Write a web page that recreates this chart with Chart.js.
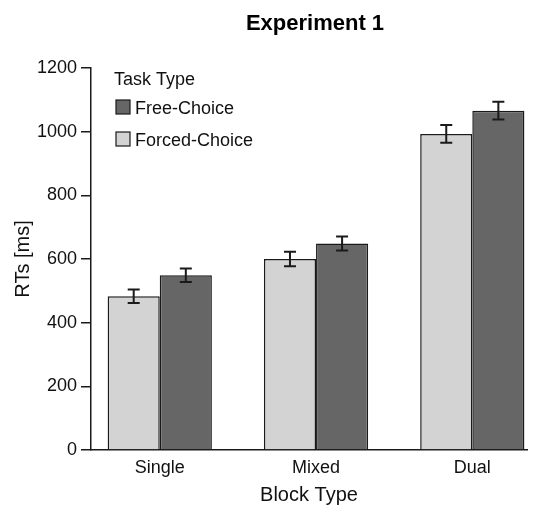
<!DOCTYPE html>
<html>
<head>
<meta charset="utf-8">
<script src="https://cdn.jsdelivr.net/npm/chart.js@4/dist/chart.umd.min.js"></script>
<style>
  html, body { margin: 0; padding: 0; background: #fff; }
  #wrap { width: 538px; height: 507px; position: relative; }
</style>
</head>
<body>
<div id="wrap"><canvas id="chart"></canvas></div>
<script>
    'use strict';

    // Data
    const blockTypes = ['Single', 'Mixed', 'Dual'];
    const forcedRT = [483, 600, 993];
    const forcedErr = [21, 23, 28];
    const freeRT = [549, 649, 1066];
    const freeErr = [21, 22, 28];
    const yTicks = [0, 200, 400, 600, 800, 1000, 1200];

    const FONT = "'Liberation Sans', Arial, sans-serif";
    const INK = '#1a1a1a';

    /**
     * Error bars, positioned through the chart scales
     */
    const errorBars = {
        id: 'errorBars',
        afterDatasetsDraw(chart) {
            const ctx = chart.ctx;
            const y = chart.scales.y;
            ctx.save();
            ctx.strokeStyle = INK;
            ctx.lineWidth = 2;
            chart.data.datasets.forEach((ds, i) => {
                const meta = chart.getDatasetMeta(i);
                meta.data.forEach((bar, j) => {
                    const v = ds.data[j].y;
                    const e = ds.errors[j];
                    const top = y.getPixelForValue(v + e);
                    const bot = y.getPixelForValue(v - e);
                    const cap = 6;
                    ctx.beginPath();
                    ctx.moveTo(bar.x, top);
                    ctx.lineTo(bar.x, bot);
                    ctx.moveTo(bar.x - cap, top);
                    ctx.lineTo(bar.x + cap, top);
                    ctx.moveTo(bar.x - cap, bot);
                    ctx.lineTo(bar.x + cap, bot);
                    ctx.stroke();
                });
            });
            ctx.restore();
        }
    };

    /**
     * Title and in-plot legend
     */
    const decorations = {
        id: 'decorations',
        afterDraw(chart) {
            const ctx = chart.ctx;
            const area = chart.chartArea;
            ctx.save();

            // title
            ctx.fillStyle = '#000';
            ctx.font = 'bold 22px ' + FONT;
            ctx.textAlign = 'center';
            ctx.textBaseline = 'alphabetic';
            ctx.fillText('Experiment 1', (area.left + area.right) / 2 + 6, 30);

            // legend
            ctx.font = '18px ' + FONT;
            ctx.textAlign = 'left';
            ctx.fillStyle = '#111';
            ctx.fillText('Task Type', area.left + 23, area.top + 17);

            const items = chart.data.datasets.slice().reverse();
            items.forEach((ds, k) => {
                const bx = area.left + 25;
                const by = area.top + 32 + k * 32;
                ctx.fillStyle = ds.backgroundColor;
                ctx.fillRect(bx, by, 14, 14);
                ctx.strokeStyle = INK;
                ctx.lineWidth = 1.2;
                ctx.strokeRect(bx, by, 14, 14);
                ctx.fillStyle = '#111';
                ctx.fillText(ds.label, bx + 19, by + 14);
            });

            ctx.restore();
        }
    };

    const toPoints = (vals) => vals.map((v, i) => ({ x: i, y: v }));

    new Chart(document.getElementById('chart'), {
        type: 'bar',
        data: {
            datasets: [
                {
                    label: 'Forced-Choice',
                    data: toPoints(forcedRT),
                    errors: forcedErr,
                    backgroundColor: '#d3d3d3',
                    borderColor: INK,
                    borderWidth: 1.5
                },
                {
                    label: 'Free-Choice',
                    data: toPoints(freeRT),
                    errors: freeErr,
                    backgroundColor: '#666666',
                    borderColor: INK,
                    borderWidth: 1.5
                }
            ]
        },
        options: {
            responsive: true,
            maintainAspectRatio: false,
            animation: false,
            categoryPercentage: 0.667,
            barPercentage: 1.0,
            layout: { padding: { top: 68, right: 11, left: 0, bottom: 0 } },
            plugins: {
                legend: { display: false },
                title: { display: false },
                tooltip: { enabled: false }
            },
            scales: {
                x: {
                    type: 'linear',
                    min: -0.44,
                    max: 2.35,
                    offset: false,
                    afterBuildTicks: (scale) => {
                        scale.ticks = blockTypes.map((c, i) => ({ value: i }));
                    },
                    afterFit: (scale) => { scale.height = 57; },
                    grid: { display: false, drawTicks: false, offset: false },
                    border: { display: true, color: INK, width: 1.5 },
                    ticks: {
                        color: '#111',
                        font: { family: FONT, size: 18 },
                        padding: 7,
                        maxRotation: 0,
                        callback: (v) => blockTypes[v]
                    },
                    title: {
                        display: true,
                        text: 'Block Type',
                        color: '#111',
                        font: { family: FONT, size: 20 },
                        padding: { top: 4, bottom: 0 }
                    }
                },
                y: {
                    min: 0,
                    max: 1200,
                    afterBuildTicks: (scale) => {
                        scale.ticks = yTicks.map(v => ({ value: v }));
                    },
                    afterFit: (scale) => { scale.width = 91; },
                    grid: {
                        display: true,
                        drawOnChartArea: false,
                        drawTicks: true,
                        tickLength: 10,
                        color: INK,
                        lineWidth: 1.5
                    },
                    border: { display: true, color: INK, width: 1.5 },
                    ticks: {
                        color: '#111',
                        font: { family: FONT, size: 18 },
                        padding: 4,
                        callback: (v) => String(v)
                    },
                    title: {
                        display: true,
                        text: 'RTs [ms]',
                        color: '#111',
                        font: { family: FONT, size: 20 },
                        padding: { top: 11, bottom: 0 }
                    }
                }
            }
        },
        plugins: [errorBars, decorations]
    });
</script>
</body>
</html>
